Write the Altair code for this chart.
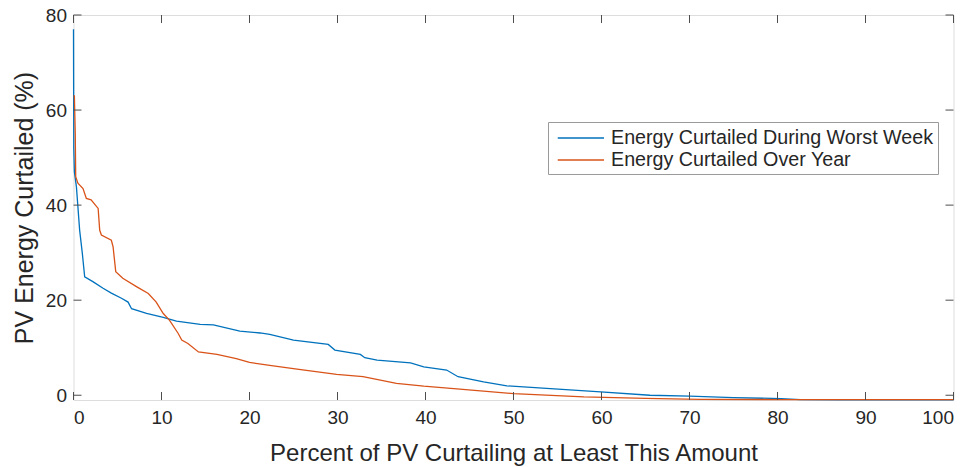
import altair as alt
import pandas as pd

# ---- data ----
week_x = [0, 0.03, 0.1, 0.33, 0.7, 1.0, 1.27, 2.2, 3.36, 4.3, 5.45, 6.2, 6.6, 8.3, 10.2,
          11.7, 14.4, 15.9, 18.9, 21.2, 22.3, 25.0, 28.95, 29.7, 32.6, 33.1, 34.5, 38.3,
          39.8, 42.4, 43.7, 46.6, 49.25, 54.2, 59.9, 65.5, 70.0, 75.0, 80.4, 82.6, 86.9, 100]
week_y = [77, 52, 47, 43.9, 34.7, 29.9, 24.9, 23.9, 22.5, 21.5, 20.4, 19.6, 18.2, 17.2, 16.4,
          15.6, 14.9, 14.8, 13.5, 13.1, 12.8, 11.6, 10.7, 9.5, 8.6, 7.9, 7.4, 6.8,
          5.96, 5.3, 3.9, 2.8, 1.97, 1.4, 0.7, 0.0, -0.2, -0.5, -0.7, -0.9, -0.95, -0.95]

year_x = [0, 0.1, 0.2, 0.25, 0.5, 1.08, 1.46, 2.0, 2.8, 2.98, 3.17, 4.3, 4.5, 4.8, 5.6, 7.2,
          8.5, 9.4, 10.2, 10.9, 11.9, 12.3, 13.0, 14.2, 16.3, 18.5, 20.0, 22.3, 25.4, 29.9,
          32.9, 36.7, 39.8, 43.9, 50.0, 58.0, 65.0, 71.2, 80.0, 90.0, 100]
year_y = [63, 63, 55, 46, 44.6, 43.5, 41.4, 41.1, 39.3, 34.7, 33.7, 32.6, 31.2, 26.0, 24.6, 22.8,
          21.4, 19.6, 17.2, 15.8, 13.0, 11.6, 10.9, 9.1, 8.6, 7.7, 6.9, 6.3, 5.5, 4.4,
          3.9, 2.5, 1.9, 1.3, 0.35, -0.35, -0.65, -0.85, -0.9, -0.92, -0.92]

series_names = ["Energy Curtailed During Worst Week", "Energy Curtailed Over Year"]
series_colors = ["#0072BD", "#D95319"]

x_ticks = [0, 10, 20, 30, 40, 50, 60, 70, 80, 90, 100]
y_ticks = [0, 20, 40, 60, 80]

# ---- build tables ----
rows = []
for i, (x, y) in enumerate(zip(week_x, week_y)):
    rows.append({"x": x, "y": y, "series": series_names[0], "i": i})
for i, (x, y) in enumerate(zip(year_x, year_y)):
    rows.append({"x": x, "y": y, "series": series_names[1], "i": i})
df = pd.DataFrame(rows)
xt = pd.DataFrame({"x": x_ticks})
yt = pd.DataFrame({"y": y_ticks})

W, H = 880, 385
FONT = "Liberation Sans"

x_axis = alt.Axis(values=x_ticks, ticks=False, domain=False, grid=False,
                  labelFontSize=19, labelFont=FONT, labelColor="#262626",
                  labelPadding=8, title="Percent of PV Curtailing at Least This Amount",
                  titleFont=FONT, titleFontSize=24, titleFontWeight="normal",
                  titleColor="#262626", titlePadding=14)
y_axis = alt.Axis(values=y_ticks, ticks=False, domain=False, grid=False,
                  labelFontSize=19, labelFont=FONT, labelColor="#262626",
                  labelPadding=7, title="PV Energy Curtailed (%)",
                  titleFont=FONT, titleFontSize=25, titleFontWeight="normal",
                  titleColor="#262626", titlePadding=8)
x_scale = alt.Scale(domain=[0, 100], nice=False, zero=False)
y_scale = alt.Scale(domain=[-1, 80], nice=False, zero=False)

# legend line: custom path in units of sqrt(size)/2 (=11 px at size 484)
legend_line = "M-0.57,0L3.64,0"

lines = alt.Chart(df).mark_line(strokeWidth=1.3, interpolate="linear").encode(
    x=alt.X("x:Q", scale=x_scale, axis=x_axis),
    y=alt.Y("y:Q", scale=y_scale, axis=y_axis),
    color=alt.Color("series:N",
                    scale=alt.Scale(domain=series_names, range=series_colors),
                    legend=alt.Legend(title=None, orient="none", legendX=474.5, legendY=107,
                                      symbolType=legend_line, symbolSize=484,
                                      symbolStrokeWidth=1.5, labelFont=FONT,
                                      labelFontSize=19.7, labelColor="#262626",
                                      labelOffset=35, rowPadding=0, padding=4,
                                      strokeColor="#9a9a9a", fillColor="white",
                                      cornerRadius=0, labelLimit=500)),
    order="i:Q",
)

tick_col = "#4d4d4d"
bottom_ticks = alt.Chart(xt).mark_rule(color=tick_col, strokeWidth=1).encode(
    x=alt.X("x:Q", scale=x_scale, axis=x_axis), y=alt.value(H), y2=alt.value(H - 8))
top_ticks = alt.Chart(xt).mark_rule(color=tick_col, strokeWidth=1).encode(
    x=alt.X("x:Q", scale=x_scale, axis=x_axis), y=alt.value(0), y2=alt.value(8))
left_ticks = alt.Chart(yt).mark_rule(color=tick_col, strokeWidth=1).encode(
    y=alt.Y("y:Q", scale=y_scale, axis=y_axis), x=alt.value(0), x2=alt.value(8))
right_ticks = alt.Chart(yt).mark_rule(color=tick_col, strokeWidth=1).encode(
    y=alt.Y("y:Q", scale=y_scale, axis=y_axis), x=alt.value(W), x2=alt.value(W - 8))

chart = alt.layer(lines, bottom_ticks, top_ticks, left_ticks, right_ticks).properties(
    width=W, height=H,
    autosize=alt.AutoSizeParams(type="none"),
    padding={"left": 65.5, "top": 7, "right": 12, "bottom": 66},
).configure_view(stroke="#8c8c8c", strokeWidth=1.6).configure(background="white")

chart.save("out.html", embed_options={"renderer": "svg", "actions": False})
